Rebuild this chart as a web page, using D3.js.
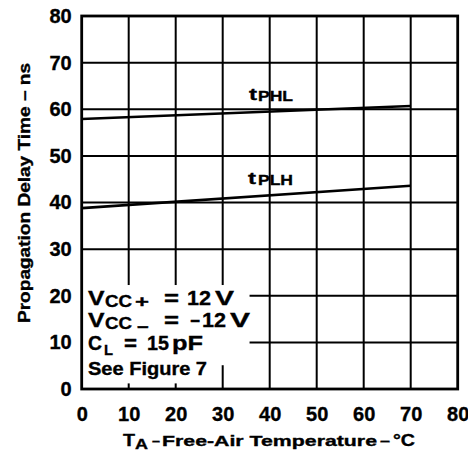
<!DOCTYPE html>
<html><head><meta charset="utf-8">
<script src="https://cdn.jsdelivr.net/npm/d3@7"></script>
<style>
body{margin:0;background:#fff;}
text{font-family:"Liberation Sans",Arial,Helvetica,sans-serif;font-weight:bold;fill:#000;stroke:#000;stroke-width:0.35px;}
</style></head>
<body><svg id="c" width="468" height="456"></svg>
<script>
// Data
const temps = [0, 70];
const tPHL = [57.9, 60.7];
const tPLH = [38.8, 43.6];
const xTicks = [0, 10, 20, 30, 40, 50, 60, 70, 80];
const yTicks = [0, 10, 20, 30, 40, 50, 60, 70, 80];

const svg = d3.select("#c");
const pLeft = 81.7, pRight = 457.7, pTop = 16, pBottom = 389;
const x = d3.scaleLinear().domain([0, 80]).range([pLeft, pRight]);
const y = d3.scaleLinear().domain([0, 80]).range([pBottom, pTop]);

function piece(px, py, txt, size, len, anchor) {
  const t = svg.append("text").attr("x", px).attr("y", py).attr("font-size", size).text(txt);
  if (len) t.attr("textLength", len).attr("lengthAdjust", "spacingAndGlyphs");
  if (anchor) t.attr("text-anchor", anchor);
  return t;
}

// grid
const g = svg.append("g");
g.selectAll("line.vx").data(xTicks.slice(1, -1)).join("line")
  .attr("x1", d => x(d)).attr("x2", d => x(d)).attr("y1", pTop).attr("y2", pBottom)
  .attr("stroke", "#000").attr("stroke-width", 2);
g.selectAll("line.hy").data(yTicks.slice(1, -1)).join("line")
  .attr("x1", pLeft).attr("x2", pRight).attr("y1", d => y(d)).attr("y2", d => y(d))
  .attr("stroke", "#000").attr("stroke-width", 2);

// data lines
const line = d3.line().x(d => x(d[0])).y(d => y(d[1]));
[tPHL, tPLH].forEach(s => {
  svg.append("path").datum(temps.map((t, i) => [t, s[i]]))
    .attr("d", line).attr("fill", "none").attr("stroke", "#000").attr("stroke-width", 2.6);
});

// series labels (t + subscript)
piece(249, 99.5, "t", 17, 8);
piece(258, 101, "PHL", 14.5, 35);
piece(248, 183.5, "t", 17, 8);
piece(258, 185, "PLH", 14.5, 35);

// white box behind conditions
svg.append("rect").attr("x", x(0) + 1).attr("y", y(22.3)).attr("width", x(35.5) - x(0)).attr("height", y(5.1) - y(22.3)).attr("fill", "#fff");
svg.append("rect").attr("x", x(0) + 1).attr("y", y(5.2)).attr("width", x(28.5) - x(0)).attr("height", y(1.2) - y(5.2)).attr("fill", "#fff");

// frame
svg.append("rect").attr("x", pLeft).attr("y", pTop).attr("width", pRight - pLeft).attr("height", pBottom - pTop)
  .attr("fill", "none").attr("stroke", "#000").attr("stroke-width", 2.8);

// condition text
piece(88, 304.5, "V", 20, 16.5);
piece(105, 306.5, "CC", 16, 27);
piece(135, 306.5, "+", 17, 14);
piece(164, 304.5, "=", 20, 15);
piece(187, 304.5, "12", 20, 24);
piece(215, 304.5, "V", 20, 19);

piece(88, 326.5, "V", 20, 16.5);
piece(105, 328.5, "CC", 16, 27);
piece(137, 333, "\u2212", 17, 12);
piece(164, 326.5, "=", 20, 15);
piece(190, 327, "\u2212", 18, 10);
piece(202, 326.5, "12", 20, 24);
piece(230, 326.5, "V", 20, 20);

piece(88, 350, "C", 20, 14);
piece(104, 354.5, "L", 15, 9);
piece(124, 350, "=", 20, 13);
piece(147, 350, "15", 20, 22);
piece(172, 350, "pF", 21, 31);

piece(88, 375.3, "See Figure 7", 17.5, 119);

// axes tick labels
const xa = svg.append("g").attr("transform", `translate(0,${pBottom})`)
  .call(d3.axisBottom(x).tickValues(xTicks).tickSize(0).tickPadding(18).tickFormat(d3.format("d")));
xa.select(".domain").remove();
xa.selectAll("text").attr("font-size", 20).attr("font-family", null).attr("fill", "#000");
const ya = svg.append("g").attr("transform", `translate(${pLeft},0)`)
  .call(d3.axisLeft(y).tickValues(yTicks).tickSize(0).tickPadding(10).tickFormat(d3.format("d")));
ya.select(".domain").remove();
ya.selectAll("text").attr("font-size", 20).attr("font-family", null).attr("fill", "#000");

// axis titles
piece(123, 445.5, "T", 16, 12);
piece(135, 449, "A", 14, 13);
piece(152, 445.5, "\u2013", 15, 8);
piece(162, 445.5, "Free-Air Temperature", 15, 215);
piece(380, 445.5, "\u2013", 15, 10);
piece(393, 445.5, "\u00b0C", 16, 22);

svg.append("text").attr("transform", "translate(30,193) rotate(-90)").attr("text-anchor", "middle")
  .attr("font-size", 16.5).attr("textLength", 260).attr("lengthAdjust", "spacingAndGlyphs")
  .text("Propagation Delay Time \u2013 ns");
</script></body></html>
